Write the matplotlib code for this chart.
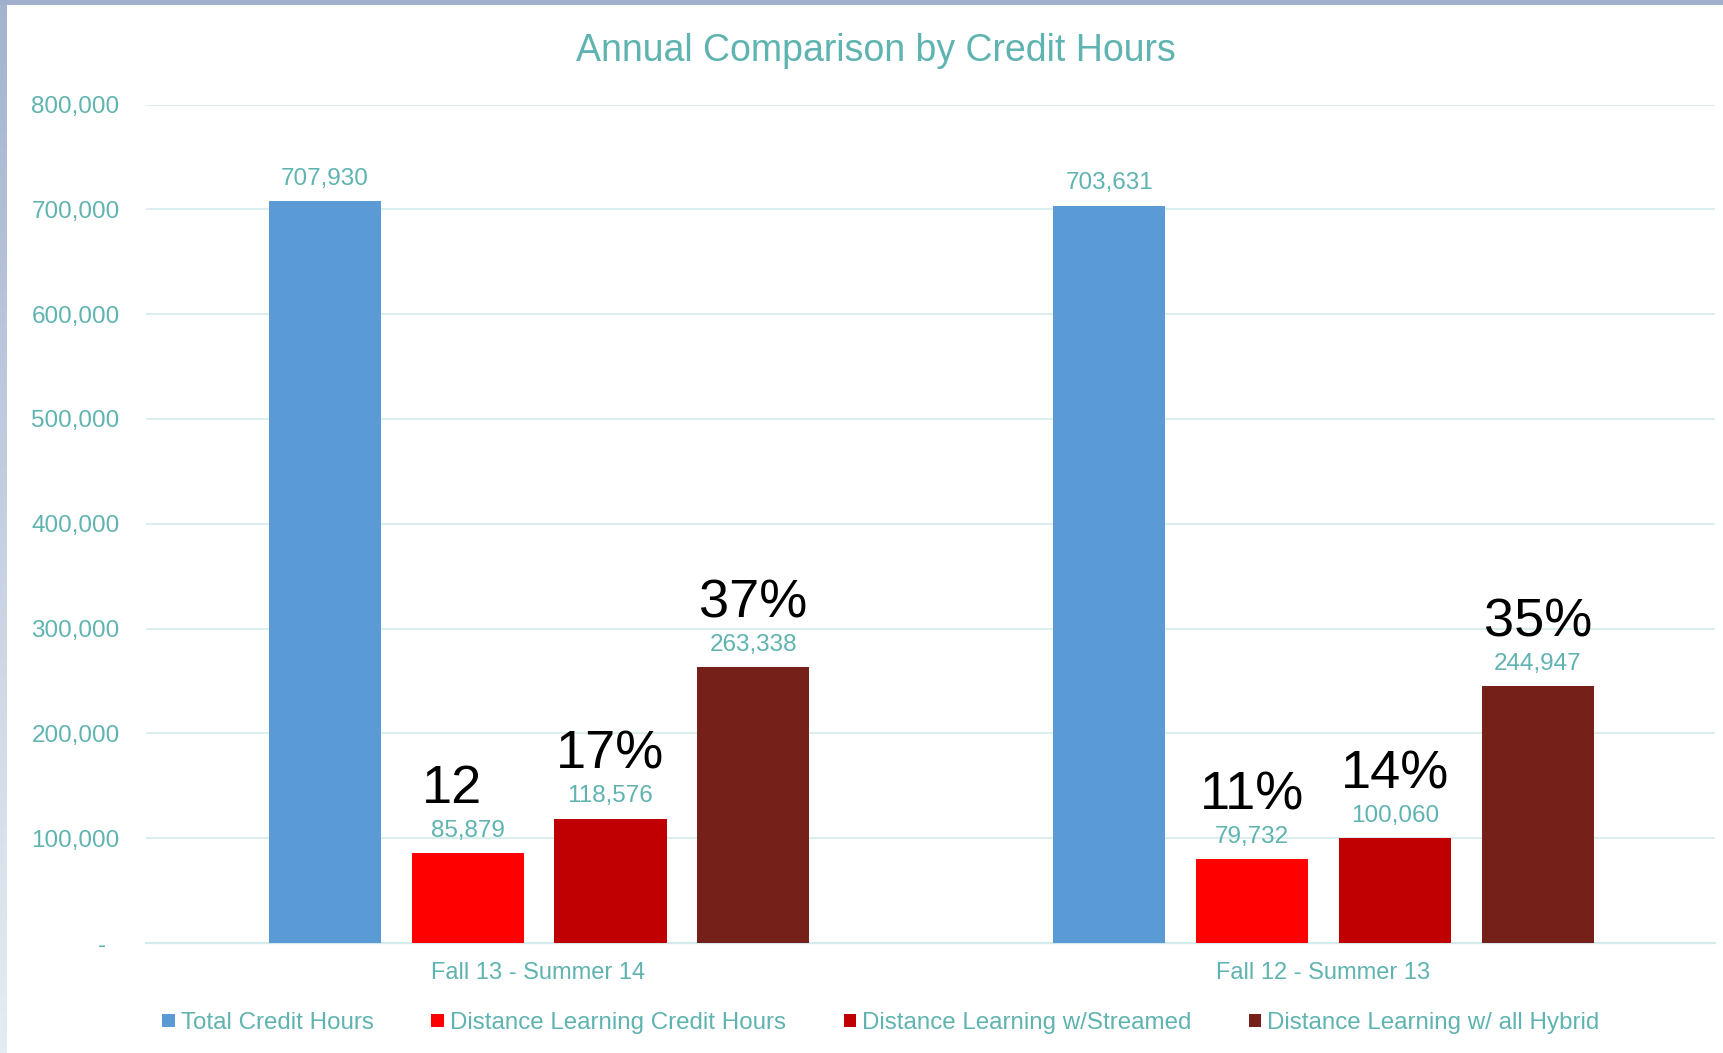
import numpy as np
import matplotlib
matplotlib.use("Agg")
import matplotlib.pyplot as plt
from matplotlib.patches import Rectangle
from matplotlib.ticker import FuncFormatter

plt.rcParams['font.family'] = ['Liberation Sans', 'DejaVu Sans']

# data
categories = ["Fall 13 - Summer 14", "Fall 12 - Summer 13"]
series_names = ["Total Credit Hours", "Distance Learning Credit Hours",
                "Distance Learning w/Streamed", "Distance Learning w/ all Hybrid"]
total_hours = [707930, 703631]
dl_hours = [85879, 79732]
dl_streamed = [118576, 100060]
dl_hybrid = [263338, 244947]
pct_dl = ["12", "11%"]
pct_streamed = ["17%", "14%"]
pct_hybrid = ["37%", "35%"]

teal = '#5fb3b0'
grid_col = '#d9eeee'
colors = ['#5b9bd5', '#ff0000', '#c00000', '#76201a']

fig = plt.figure(figsize=(17.24, 10.53), dpi=100)
fig.patch.set_facecolor('white')

# window frame: top band and left gradient strip
fig.patches.append(Rectangle((0, 1 - 5 / 1053), 1, 5 / 1053, transform=fig.transFigure,
                             facecolor='#a0b0cc', edgecolor='none', zorder=0))
strip = fig.add_axes([0, 0, 7 / 1724, 1 - 5 / 1053])
grad = np.linspace(0, 1, 256).reshape(-1, 1)
strip.imshow(grad, aspect='auto', cmap=matplotlib.colors.LinearSegmentedColormap.from_list(
    'edge', ['#a4b4cf', '#e6ecf3']), extent=[0, 1, 0, 1])
strip.axis('off')

ax = fig.add_axes([146 / 1724, 1 - 943 / 1053, (1715 - 146) / 1724, (943 - 104.5) / 1053])

x = np.arange(len(categories))
step = 0.182
width = 0.143
all_series = [total_hours, dl_hours, dl_streamed, dl_hybrid]
bars = []
for i, (name, vals) in enumerate(zip(series_names, all_series)):
    b = ax.bar(x + (i - 1.5) * step + 0.001, vals, width, color=colors[i], label=name, zorder=3)
    bars.append(b)
    for rect, v in zip(b, vals):
        ax.annotate(f"{v:,}", (rect.get_x() + rect.get_width() / 2, v),
                    xytext=(0, 16), textcoords='offset points', ha='center', va='center',
                    fontsize=17.5, color=teal, zorder=4)

# big percentage labels
for b, labels in zip(bars[1:], [pct_dl, pct_streamed, pct_hybrid]):
    for rect, lab in zip(b, labels):
        dx = -11 if lab == "12" else 0
        ax.annotate(lab, (rect.get_x() + rect.get_width() / 2, rect.get_height()),
                    xytext=(dx, 46), textcoords='offset points', ha='center', va='center',
                    fontsize=39, color='black', zorder=5)

ax.set_xlim(-0.5, 1.5)
ax.set_ylim(0, 800000)
ax.set_yticks(np.arange(0, 800001, 100000))
ax.yaxis.set_major_formatter(FuncFormatter(lambda v, p: "-  " if v == 0 else f"{int(v):,}"))
ax.set_xticks(x)
ax.set_xticklabels(categories)
ax.tick_params(axis='y', length=0, pad=19, labelsize=17.5, labelcolor=teal)
ax.tick_params(axis='x', length=0, pad=14, labelsize=17, labelcolor=teal)
ax.grid(axis='y', color=grid_col, linewidth=1.4, zorder=0)
for s in ['top', 'right', 'left']:
    ax.spines[s].set_visible(False)
ax.spines['bottom'].set_color('#d5eaea')
ax.spines['bottom'].set_linewidth(1.6)
ax.set_axisbelow(True)

fig.text(0.508, 1 - 51 / 1053, "Annual Comparison by Credit Hours", ha='center', va='center',
         fontsize=27, color=teal)

leg = fig.legend(loc='center', bbox_to_anchor=(0.511, 1 - 1023 / 1053), ncol=4, frameon=False,
                 fontsize=17.4, handlelength=0.5, handleheight=0.5, handletextpad=0.25,
                 columnspacing=2.4, borderpad=0)
for t in leg.get_texts():
    t.set_color(teal)

fig.savefig("out.png", dpi=100)
